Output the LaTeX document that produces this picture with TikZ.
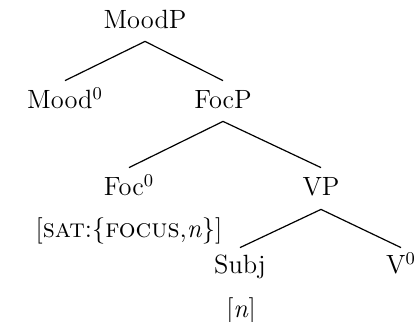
\documentclass[tikz,border=0pt]{standalone}
\begin{document}
\begin{tikzpicture}[x=0.5pt,y=-0.5pt,
  lab/.style={anchor=base,inner sep=0pt,text height=9pt,text depth=0pt,font=\fontsize{13.2}{15}\selectfont},
  edge/.style={line width=0.6pt}]
\useasboundingbox (0,0) rectangle (417,321);
\node[lab] (moodp) at (145,28) {MoodP};
\node[lab] (mood) at (65,108) {Mood$^0$};
\node[lab] (focp) at (223,108) {FocP};
\node[lab] (foc) at (129,195) {Foc$^0$};
\node[lab] (sat) at (129,237) {[\textsc{sat}:\{\textsc{focus},\textit{n}\}]};
\node[lab] (vp) at (321,195) {VP};
\node[lab] (subj) at (240,273) {Subj};
\node[lab] (nn) at (241,317) {[\textit{n}]};
\node[lab] (v) at (401,273) {V$^0$};
\draw[edge] ([yshift=-6.5pt]moodp.south) -- ([yshift=4.5pt]mood.north);
\draw[edge] ([yshift=-6.5pt]moodp.south) -- ([yshift=4.5pt]focp.north);
\draw[edge] ([yshift=-6.5pt]focp.south) -- ([yshift=4.5pt]foc.north);
\draw[edge] ([yshift=-6.5pt]focp.south) -- ([yshift=4.5pt]vp.north);
\draw[edge] ([yshift=-7pt]vp.south) -- ([yshift=3.5pt]subj.north);
\draw[edge] ([yshift=-7pt]vp.south) -- ([yshift=3.5pt]v.north);
\end{tikzpicture}
\end{document}
